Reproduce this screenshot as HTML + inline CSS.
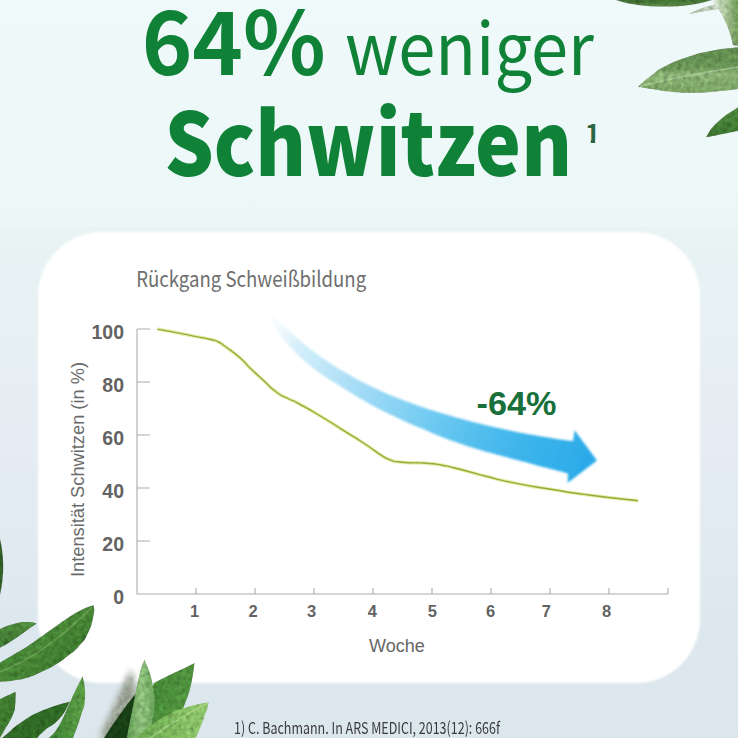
<!DOCTYPE html>
<html><head><meta charset="utf-8">
<style>
html,body{margin:0;padding:0;}
body{width:738px;height:738px;overflow:hidden;position:relative;background:linear-gradient(180deg,#eff9f9 0px,#ecf7f7 225px,#e8f3f4 229px,#e7f0f3 330px,#e5ecf3 440px,#e2ebf1 520px,#dde8ee 620px,#dbe7ed 738px);font-family:"Liberation Sans",sans-serif;}
svg{position:absolute;left:0;top:0;}
.t{font-family:"Liberation Sans",sans-serif;}
</style></head><body>
<svg width="738" height="738" viewBox="0 0 738 738">
<defs>
<linearGradient id="arr" gradientUnits="userSpaceOnUse" x1="262" y1="304" x2="597" y2="460">
<stop offset="0" stop-color="#ffffff" stop-opacity="0"/>
<stop offset="0.06" stop-color="#eaf7fc" stop-opacity="0.5"/>
<stop offset="0.13" stop-color="#d6f0fa"/>
<stop offset="0.3" stop-color="#acdff7"/>
<stop offset="0.45" stop-color="#88d2f4"/>
<stop offset="0.6" stop-color="#63c5f0"/>
<stop offset="0.8" stop-color="#3db4eb"/>
<stop offset="1" stop-color="#29aae8"/>
</linearGradient>
<linearGradient id="lgDark" x1="0" y1="0" x2="0" y2="1"><stop offset="0" stop-color="#3f6f32"/><stop offset="1" stop-color="#5b8a47"/></linearGradient>
<linearGradient id="lgPale" x1="0" y1="0" x2="1" y2="0"><stop offset="0" stop-color="#e4eee0"/><stop offset="0.5" stop-color="#a9c397"/><stop offset="1" stop-color="#6f9a58"/></linearGradient>
<linearGradient id="lgSage" x1="0" y1="0" x2="0" y2="1"><stop offset="0" stop-color="#5e8a4d"/><stop offset="0.45" stop-color="#6c9858"/><stop offset="0.6" stop-color="#8bb174"/><stop offset="1" stop-color="#7aa464"/></linearGradient>
<linearGradient id="lgMid" x1="0" y1="0" x2="0" y2="1"><stop offset="0" stop-color="#4e8a3b"/><stop offset="1" stop-color="#3c7530"/></linearGradient>
<linearGradient id="lgBig" x1="0" y1="0" x2="1" y2="1"><stop offset="0" stop-color="#36752a"/><stop offset="0.5" stop-color="#488736"/><stop offset="1" stop-color="#2c6623"/></linearGradient>
<linearGradient id="lgF" x1="0" y1="0" x2="1" y2="0"><stop offset="0" stop-color="#3d8030"/><stop offset="1" stop-color="#5a9c45"/></linearGradient>
<linearGradient id="lgH" x1="0" y1="0" x2="1" y2="0"><stop offset="0" stop-color="#5e9a50"/><stop offset="0.5" stop-color="#8fbf7c"/><stop offset="1" stop-color="#6aa55a"/></linearGradient>
<linearGradient id="lgI" x1="0" y1="0" x2="1" y2="1"><stop offset="0" stop-color="#3f8233"/><stop offset="1" stop-color="#5a9d44"/></linearGradient>
<linearGradient id="lgJ" x1="0" y1="0" x2="1" y2="0"><stop offset="0" stop-color="#6aa84e"/><stop offset="1" stop-color="#92c76e"/></linearGradient>
<filter id="tex" x="0" y="0" width="738" height="738" filterUnits="userSpaceOnUse">
<feTurbulence type="fractalNoise" baseFrequency="0.22" numOctaves="3" seed="7" result="n"/>
<feColorMatrix in="n" type="matrix" values="0.3 0.3 0.3 0 0.05  0.3 0.3 0.3 0 0.05  0.3 0.3 0.3 0 0.05  0 0 0 0 1" result="g"/>
<feComposite in="g" in2="SourceAlpha" operator="in" result="g2"/>
<feBlend in="g2" in2="SourceGraphic" mode="overlay"/>
</filter>
<filter id="soft" x="-5%" y="-5%" width="110%" height="110%"><feGaussianBlur stdDeviation="0.8"/></filter>
<filter id="blur3" x="-50%" y="-50%" width="200%" height="200%"><feGaussianBlur stdDeviation="3"/></filter>
<clipPath id="c1" clipPathUnits="userSpaceOnUse"><rect x="578" y="112" width="30" height="27.6"/><rect x="590.8" y="112" width="4.3" height="40"/></clipPath>
</defs>
<!-- card -->
<rect x="38" y="232" width="662" height="451" rx="64" ry="64" fill="#ffffff" filter="url(#soft)"/>
<!-- title -->
<g class="t" fill="#0f8238">
<text x="141.7" y="75.3" font-size="88" font-weight="700" font-family="Noto Sans CJK JP, Liberation Sans, sans-serif" textLength="184" lengthAdjust="spacingAndGlyphs">64%</text>
<text x="345" y="75" font-size="72" font-family="Noto Sans CJK JP, Liberation Sans, sans-serif" font-weight="400" textLength="249" lengthAdjust="spacingAndGlyphs">weniger</text>
<text x="164.4" y="176.3" font-size="87" font-weight="900" font-family="Noto Sans CJK JP, Liberation Sans, sans-serif" textLength="407.7" lengthAdjust="spacingAndGlyphs">Schwitzen</text>
</g>
<text x="585" y="143" font-size="26" font-family="Noto Sans CJK JP, Liberation Sans, sans-serif" font-weight="700" fill="#2a6642" clip-path="url(#c1)">1</text>
<!-- chart -->
<text x="136.2" y="287.4" font-size="21.5" font-family="Noto Sans CJK JP, Liberation Sans, sans-serif" font-weight="400" fill="#6e6e6e" textLength="230" lengthAdjust="spacingAndGlyphs">Rückgang Schweißbildung</text>
<g stroke="#acacac" stroke-width="1.1" fill="none">
<path d="M137,329 V594 H668"/>
<path d="M137,329 H150 M137,382 H150 M137,435 H150 M137,488 H150 M137,541 H150"/>
<path d="M196,594 V588 M255,594 V588 M314,594 V588 M373,594 V588 M432,594 V588 M491,594 V588 M550,594 V588 M609,594 V588 M668,594 V588"/>
</g>
<g class="t" font-size="19.5" font-weight="bold" fill="#636363" text-anchor="end">
<text x="124" y="338.5">100</text>
<text x="124" y="391.5">80</text>
<text x="124" y="444.5">60</text>
<text x="124" y="497.5">40</text>
<text x="124" y="550.5">20</text>
<text x="124" y="603.5">0</text>
</g>
<g class="t" font-size="16.5" font-weight="bold" fill="#636363" text-anchor="middle">
<text x="194.5" y="616.8">1</text>
<text x="253" y="616.8">2</text>
<text x="311.6" y="616.8">3</text>
<text x="372.3" y="616.8">4</text>
<text x="432.4" y="616.8">5</text>
<text x="490.5" y="616.8">6</text>
<text x="546.3" y="616.8">7</text>
<text x="606.5" y="616.8">8</text>
</g>
<text class="t" x="369" y="652.3" font-size="18" fill="#666666">Woche</text>
<text class="t" transform="translate(84,469.5) rotate(-90)" x="0" y="0" font-size="17.5" fill="#6a6a6a" text-anchor="middle" textLength="215" lengthAdjust="spacingAndGlyphs">Intensität Schwitzen (in %)</text>
<!-- arrow -->
<path d="M262.0,303.1 C264.7,306.1 266.7,308.5 272.0,314.1 C277.3,319.7 276.7,319.0 282.0,324.2 C287.3,329.4 286.7,328.8 292.0,333.6 C297.3,338.4 296.7,337.8 302.0,342.2 C307.3,346.7 306.7,346.1 312.0,350.2 C317.3,354.3 316.7,353.8 322.0,357.6 C327.3,361.3 326.7,360.9 332.0,364.4 C337.3,367.8 336.7,367.4 342.0,370.6 C347.3,373.8 346.7,373.4 352.0,376.4 C357.3,379.4 356.7,379.0 362.0,381.8 C367.3,384.5 366.7,384.2 372.0,386.7 C377.3,389.3 376.7,389.0 382.0,391.4 C387.3,393.7 386.7,393.4 392.0,395.7 C397.3,397.9 396.7,397.6 402.0,399.7 C407.3,401.7 406.7,401.5 412.0,403.4 C417.3,405.3 416.7,405.1 422.0,406.9 C427.3,408.7 426.7,408.5 432.0,410.2 C437.3,411.9 436.7,411.7 442.0,413.3 C447.3,414.9 446.7,414.7 452.0,416.3 C457.3,417.8 456.7,417.6 462.0,419.0 C467.3,420.5 466.7,420.3 472.0,421.7 C477.3,423.0 476.7,422.9 482.0,424.2 C487.3,425.5 486.7,425.3 492.0,426.5 C497.3,427.8 496.7,427.6 502.0,428.8 C507.3,430.0 506.7,429.8 512.0,430.9 C517.3,432.0 516.7,431.9 522.0,432.9 C527.3,434.0 526.7,433.8 532.0,434.8 C537.3,435.8 536.7,435.7 542.0,436.6 C547.3,437.5 546.7,437.4 552.0,438.2 C557.3,439.0 556.4,438.9 562.0,439.7 C567.6,440.4 570.1,440.7 573.0,441.1 L574.6,430.3 L597,460.4 L567.6,483.1 L568.0,473.5 C563.7,472.4 558.9,471.1 552.0,469.3 C545.1,467.5 547.3,468.2 542.0,466.8 C536.7,465.4 537.3,465.5 532.0,464.0 C526.7,462.5 527.3,462.7 522.0,461.3 C516.7,459.9 517.3,460.1 512.0,458.7 C506.7,457.4 507.3,457.5 502.0,456.1 C496.7,454.6 497.3,454.8 492.0,453.3 C486.7,451.9 487.3,452.1 482.0,450.5 C476.7,448.9 477.3,449.1 472.0,447.5 C466.7,445.8 467.3,446.0 462.0,444.2 C456.7,442.4 457.3,442.7 452.0,440.8 C446.7,438.8 447.3,439.1 442.0,436.9 C436.7,434.8 437.3,435.1 432.0,432.9 C426.7,430.6 427.3,430.9 422.0,428.6 C416.7,426.3 417.3,426.7 412.0,424.4 C406.7,422.1 407.3,422.4 402.0,420.0 C396.7,417.5 397.3,417.8 392.0,415.3 C386.7,412.7 387.3,413.1 382.0,410.4 C376.7,407.7 377.3,408.0 372.0,405.2 C366.7,402.3 367.3,402.7 362.0,399.6 C356.7,396.5 357.3,396.9 352.0,393.6 C346.7,390.3 347.3,390.6 342.0,387.2 C336.7,383.9 337.3,384.4 332.0,381.1 C326.7,377.7 327.3,378.3 322.0,374.5 C316.7,370.8 317.3,371.2 312.0,367.0 C306.7,362.8 307.3,363.7 302.0,358.8 C296.7,353.9 297.3,354.4 292.0,348.7 C286.7,343.0 287.3,344.3 282.0,337.3 C276.7,330.3 277.3,331.6 272.0,322.4 C266.7,313.3 264.7,308.3 262.0,303.1 Z" fill="url(#arr)" filter="url(#soft)"/>
<text class="t" x="476.5" y="415" font-size="33" font-weight="bold" fill="#17703a" textLength="80" lengthAdjust="spacingAndGlyphs">-64%</text>
<!-- curve -->
<path d="M157.3,329.1 C165.0,330.5 166.7,330.7 180.5,333.4 C194.3,336.1 188.6,335.1 198.8,337.1 C209.0,339.1 204.5,337.9 211.0,339.5 C217.5,341.1 213.4,339.6 218.3,342.0 C223.2,344.4 218.4,341.5 225.6,346.8 C232.8,352.1 231.9,350.7 240.0,357.8 C248.1,364.9 242.3,360.6 250.0,368.0 C257.7,375.4 254.3,372.1 263.0,380.0 C271.7,387.9 267.7,385.6 276.0,391.8 C284.3,398.0 280.0,394.3 288.0,398.5 C296.0,402.7 288.7,398.1 300.0,404.3 C311.3,410.5 307.5,408.3 322.0,417.0 C336.5,425.7 329.1,421.4 343.4,430.4 C357.7,439.4 352.8,436.0 365.0,444.0 C377.2,452.0 371.7,449.1 380.0,454.4 C388.3,459.7 384.0,457.3 390.0,459.8 C396.0,462.3 391.3,460.8 398.0,461.8 C404.7,462.8 402.9,462.3 410.0,462.7 C417.1,463.1 412.5,462.6 419.2,462.9 C425.9,463.2 422.8,462.8 430.0,463.5 C437.2,464.2 430.9,463.1 440.9,465.0 C450.9,466.9 445.0,465.5 460.0,469.3 C475.0,473.1 468.4,471.9 486.0,476.3 C503.6,480.7 491.2,478.3 512.8,482.6 C534.4,486.9 525.4,485.2 550.7,489.3 C576.0,493.4 559.5,491.2 588.6,495.0 C617.7,498.8 621.5,498.8 638.0,500.7" fill="none" stroke="#dce78f" stroke-width="3.6" opacity="0.7"/>
<path d="M157.3,329.1 C165.0,330.5 166.7,330.7 180.5,333.4 C194.3,336.1 188.6,335.1 198.8,337.1 C209.0,339.1 204.5,337.9 211.0,339.5 C217.5,341.1 213.4,339.6 218.3,342.0 C223.2,344.4 218.4,341.5 225.6,346.8 C232.8,352.1 231.9,350.7 240.0,357.8 C248.1,364.9 242.3,360.6 250.0,368.0 C257.7,375.4 254.3,372.1 263.0,380.0 C271.7,387.9 267.7,385.6 276.0,391.8 C284.3,398.0 280.0,394.3 288.0,398.5 C296.0,402.7 288.7,398.1 300.0,404.3 C311.3,410.5 307.5,408.3 322.0,417.0 C336.5,425.7 329.1,421.4 343.4,430.4 C357.7,439.4 352.8,436.0 365.0,444.0 C377.2,452.0 371.7,449.1 380.0,454.4 C388.3,459.7 384.0,457.3 390.0,459.8 C396.0,462.3 391.3,460.8 398.0,461.8 C404.7,462.8 402.9,462.3 410.0,462.7 C417.1,463.1 412.5,462.6 419.2,462.9 C425.9,463.2 422.8,462.8 430.0,463.5 C437.2,464.2 430.9,463.1 440.9,465.0 C450.9,466.9 445.0,465.5 460.0,469.3 C475.0,473.1 468.4,471.9 486.0,476.3 C503.6,480.7 491.2,478.3 512.8,482.6 C534.4,486.9 525.4,485.2 550.7,489.3 C576.0,493.4 559.5,491.2 588.6,495.0 C617.7,498.8 621.5,498.8 638.0,500.7" fill="none" stroke="#98aa38" stroke-width="1.4"/>
<!-- leaves -->
<g filter="url(#tex)">
<path d="M616,0 C630,5 650,7 670,6.5 C690,6 702,3 712,0 Z" fill="url(#lgDark)"/>
<path d="M689,14 C700,8 716,3 738,1 L738,7 C722,8 704,11 689,14 Z" fill="#b9c9b4"/>
<path d="M713,2 C722,12 729,26 733,45 L738,46 L738,0 L713,0 Z" fill="url(#lgPale)"/>
<path d="M638.0,86.8 C642.2,83.3 643.4,81.5 652.0,75.1 C660.6,68.7 655.6,71.1 666.6,65.6 C677.6,60.1 675.3,61.2 688.5,56.8 C701.7,52.4 695.6,53.9 710.5,51.0 C725.4,48.1 729.8,48.4 738.0,47.3 L738.0,89.0 C731.9,89.7 730.4,90.1 717.8,91.2 C705.2,92.3 709.0,92.5 695.9,92.7 C682.8,92.9 687.2,93.1 674.0,92.0 C660.8,90.9 662.8,90.6 652.0,89.0 C641.2,87.4 642.2,87.5 638.0,86.8 Z" fill="url(#lgSage)" />
<path d="M640,86 C665,80 700,73 738,67" stroke="#a9c597" stroke-width="1.4" fill="none" opacity="0.8"/>
<path d="M706.0,137.3 C709.5,132.7 708.2,131.0 717.8,122.0 C727.4,113.0 731.9,111.7 738.0,107.3 L738.0,130.7 C731.9,132.0 727.4,133.0 717.8,135.0 C708.2,137.0 709.5,136.6 706.0,137.3 Z" fill="url(#lgMid)" />
<path d="M0,539 C4,555 4.5,575 0,595 Z" fill="#2f5e24"/>
<path d="M36.6,623.5 C33.8,623.0 34.0,621.9 27.1,622.0 C20.2,622.1 21.7,621.9 13.6,624.0 C5.5,626.1 4.1,627.4 0.0,628.9 L0.0,647.8 C4.1,645.4 5.5,645.0 13.6,639.7 C21.7,634.4 20.2,635.1 27.1,630.2 C34.0,625.3 33.8,625.5 36.6,623.5 Z" fill="url(#lgMid)" />
<path d="M93.5,605.2 C89.8,606.6 89.0,606.1 81.3,609.9 C73.6,613.7 75.9,612.7 67.8,618.0 C59.7,623.3 62.3,621.8 54.2,627.5 C46.1,633.2 48.8,631.3 40.7,637.0 C32.6,642.7 35.2,641.2 27.1,646.5 C19.0,651.8 21.7,649.7 13.6,654.6 C5.5,659.5 4.1,660.3 0.0,662.8 L0.0,681.7 C4.1,681.3 5.5,681.6 13.6,680.4 C21.7,679.2 19.0,680.2 27.1,677.7 C35.2,675.2 32.6,675.9 40.7,672.2 C48.8,668.5 46.1,670.4 54.2,665.5 C62.3,660.6 60.5,661.7 67.8,656.0 C75.1,650.3 72.5,653.4 78.6,646.5 C84.7,639.6 83.5,642.4 88.0,633.0 C92.5,623.6 91.8,623.6 93.5,615.3 C95.2,607.0 93.5,608.2 93.5,605.2 Z" fill="url(#lgBig)" />
<path d="M0,672 C30,660 60,640 92,607" stroke="#7fae66" stroke-width="1.6" fill="none" opacity="0.6"/>
<path d="M0,699 L15.6,691.7 C16,700 15,705 14.9,709.6 C12,718 9,723 6,727.5 L0,738 Z" fill="#3d7a2e"/>
<path d="M70.0,701.4 C62.4,703.9 59.0,703.6 44.7,709.6 C30.4,715.6 33.6,714.3 22.4,721.5 C11.2,728.7 13.6,728.5 7.5,733.5 C1.4,738.5 3.7,736.6 2.0,738.0 L37.3,738.0 C39.5,735.8 38.0,736.3 44.7,730.5 C51.4,724.7 52.0,727.3 59.6,718.6 C67.2,709.9 66.9,706.6 70.0,701.4 Z" fill="#2f6a25" />
<path d="M82.7,676.0 C79.3,682.9 78.4,684.5 71.5,699.0 C64.6,713.5 66.3,712.8 59.6,724.5 C52.9,736.2 52.2,734.0 49.0,738.0 L73.0,738.0 C75.2,731.7 76.9,729.1 80.5,717.0 C84.1,704.9 84.3,710.0 85.0,697.7 C85.7,685.4 83.4,682.5 82.7,676.0 Z" fill="url(#lgF)" />
<path d="M131,670 C134,680 136,695 134,705 L110,738 L100,738 C110,715 122,690 131,670 Z" fill="#8e9a86" filter="url(#blur3)" opacity="0.85"/>
<path d="M137,692 L128.8,738 L104,738 C112,725 124,708 137,692 Z" fill="#183f14"/>
<path d="M194.5,662.9 C186,667.5 166,676.5 154,683 C149,695 147,715 146,738 L177,738 C179,722 182,711 185.5,702 C189,694 192,684 194.5,662.9 Z" fill="url(#lgI)"/>
<path d="M144.4,659.5 C142.8,664.8 142.3,663.6 139.0,677.0 C135.7,690.4 137.2,685.7 133.5,704.0 C129.8,722.3 128.8,727.8 126.8,738.0 L147.0,738.0 C149.1,729.9 152.2,727.2 153.9,711.0 C155.6,694.8 155.3,699.5 152.5,684.0 C149.7,668.5 146.8,666.9 144.4,659.5 Z" fill="url(#lgH)" />
<path d="M208.8,702.2 C202.5,703.6 200.1,703.2 187.7,707.0 C175.3,710.8 179.6,708.5 167.4,715.0 C155.2,721.5 156.4,721.7 147.1,728.6 C137.8,735.5 139.5,735.2 136.3,738.0 L195.9,738.0 C198.3,731.9 200.1,728.5 204.0,717.8 C207.9,707.1 207.4,706.9 208.8,702.2 Z" fill="url(#lgJ)" />
<path d="M206,704 C190,712 170,724 150,738" stroke="#b5dc96" stroke-width="1.2" fill="none" opacity="0.7"/>
</g>
<!-- footnote -->
<text x="234" y="734" font-size="16.5" font-family="Noto Sans CJK JP, Liberation Sans, sans-serif" font-weight="400" fill="#3a3a3a" textLength="266" lengthAdjust="spacingAndGlyphs">1) C. Bachmann. In ARS MEDICI, 2013(12): 666f</text>
</svg>
</body></html>
